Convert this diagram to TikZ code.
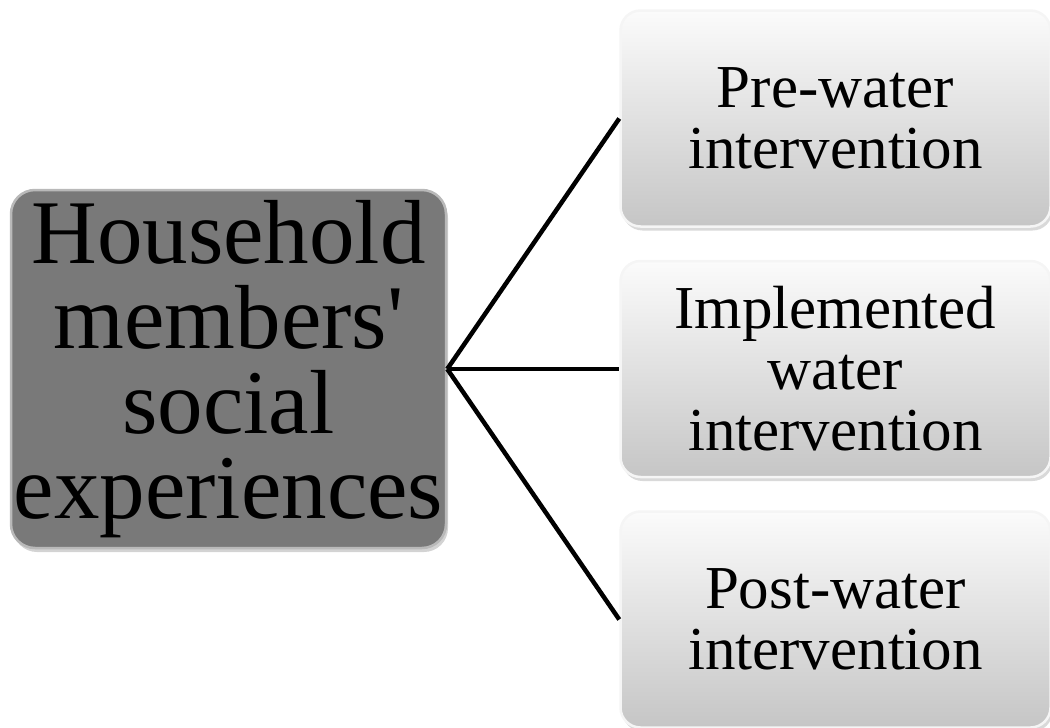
\documentclass[tikz,border=0pt]{standalone}
\usepackage{fontspec}
\setmainfont{Liberation Serif}
\usetikzlibrary{positioning,shadows}

\begin{document}
\begin{tikzpicture}[
    x=1pt, y=1pt,
    node distance=32pt and 172pt,
    mainbox/.style={rectangle, rounded corners=24pt, draw=gray!55, line width=2.5pt, fill=gray!95!black, align=center, minimum width=435pt, minimum height=358pt, inner sep=0pt, font=\fontsize{91}{85}\selectfont, drop shadow={opacity=0.35, shadow xshift=2pt, shadow yshift=-4pt}},
    phasebox/.style={rectangle, rounded corners=20pt, draw=gray!8, line width=2.5pt, top color=gray!3, bottom color=gray!45, align=center, minimum width=430pt, minimum height=216pt, inner sep=0pt, font=\fontsize{61}{61}\selectfont, drop shadow={opacity=0.3, shadow xshift=2pt, shadow yshift=-4pt}},
    link/.style={line width=4.5pt}
]
\useasboundingbox (0,0) rectangle (1050,-728);
\node[mainbox] (household) at (228.5,-369) {Household\\members\textquotesingle\\social\\experiences};
\node[phasebox, right=of household] (implemented) {Implemented\\water\\intervention};
\node[phasebox, above=of implemented] (pre) {Pre-water\\intervention};
\node[phasebox, below=of implemented] (post) {Post-water\\intervention};

\draw[link] (household.east) -- (pre.west);
\draw[link] (household.east) -- (implemented.west);
\draw[link] (household.east) -- (post.west);
\end{tikzpicture}
\end{document}
